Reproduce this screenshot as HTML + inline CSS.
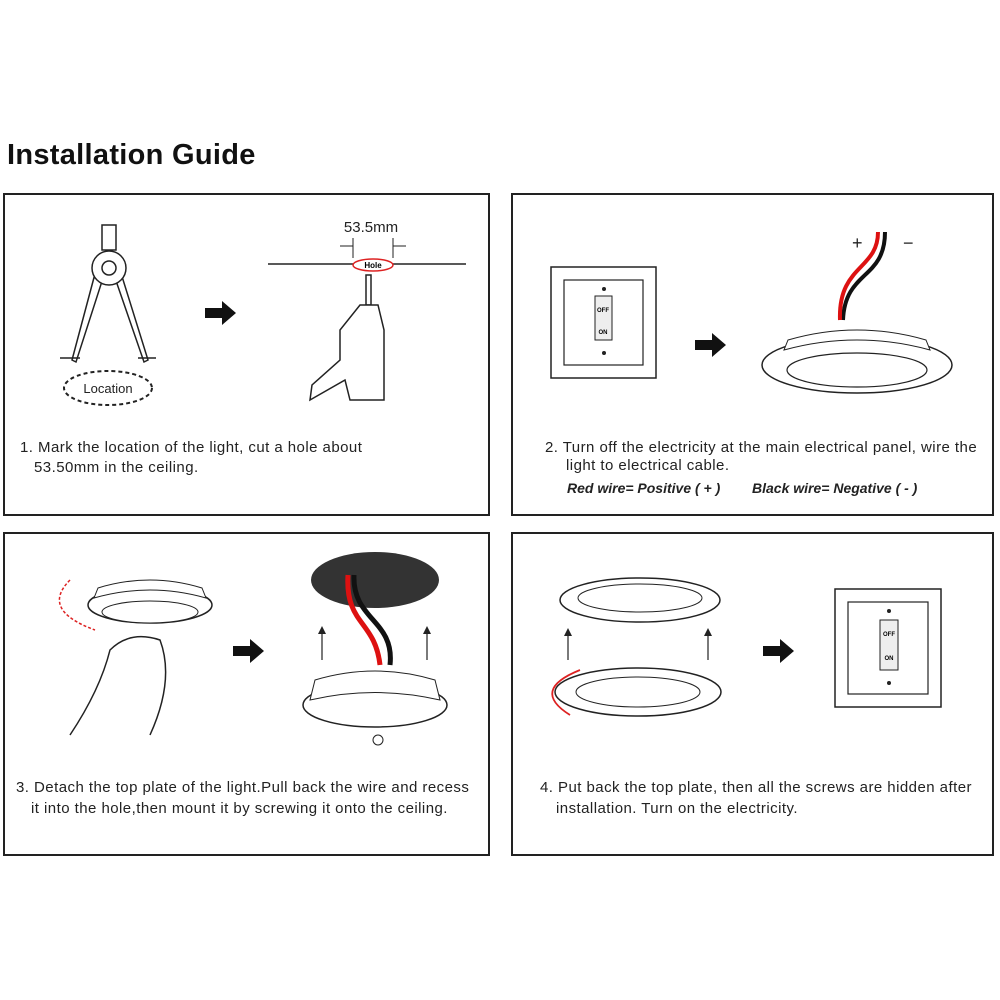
<!DOCTYPE html>
<html><head><meta charset="utf-8"><style>
body{margin:0;background:#fff;width:1000px;height:1000px;overflow:hidden}
svg{display:block}
text{font-family:"Liberation Sans",sans-serif}
.t{font-size:15px;letter-spacing:0.45px;fill:#222}
</style></head><body>
<svg width="1000" height="1000" viewBox="0 0 1000 1000">
<text x="7" y="164" font-size="29" font-weight="bold" fill="#111" letter-spacing="0.3">Installation Guide</text>
<g fill="none" stroke="#222" stroke-width="2">
<rect x="4" y="194" width="485" height="321"/>
<rect x="512" y="194" width="481" height="321"/>
<rect x="4" y="533" width="485" height="322"/>
<rect x="512" y="533" width="481" height="322"/>
</g>
<!-- Panel 1 -->
<g stroke="#222" stroke-width="1.5" fill="#fff">
<rect x="102" y="225" width="14" height="25"/>
<polygon points="96,270 72,360 76,362 104,275"/>
<polygon points="120,270 148,360 144,362 114,275"/>
<circle cx="109" cy="268" r="17"/><circle cx="109" cy="268" r="7"/>
<line x1="60" y1="358" x2="80" y2="358"/><line x1="138" y1="358" x2="156" y2="358"/>
</g>
<ellipse cx="108" cy="388" rx="44" ry="17" fill="none" stroke="#222" stroke-width="2" stroke-dasharray="4,3"/>
<text x="108" y="393" font-size="13" text-anchor="middle" fill="#222">Location</text>
<polygon points="205,308 222,308 222,301 236,313 222,325 222,318 205,318" fill="#111"/>
<line x1="268" y1="264" x2="466" y2="264" stroke="#222" stroke-width="1.5"/>
<ellipse cx="373" cy="265" rx="20" ry="6" fill="#fff" stroke="#d22" stroke-width="1.5"/>
<text x="373" y="268" font-size="8" font-weight="bold" text-anchor="middle">Hole</text>
<text x="371" y="232" font-size="15" text-anchor="middle" fill="#222">53.5mm</text>
<g stroke="#222" stroke-width="1" fill="none"><line x1="353" y1="238" x2="353" y2="258"/><line x1="393" y1="238" x2="393" y2="258"/><line x1="340" y1="246" x2="353" y2="246"/><line x1="393" y1="246" x2="406" y2="246"/></g>
<g stroke="#222" stroke-width="1.5" fill="#fff">
<rect x="366" y="275" width="5" height="30"/>
<polygon points="360,305 378,305 384,330 384,400 350,400 345,380 310,400 312,385 340,360 340,330"/>
</g>
<text x="20" y="452" class="t">1. Mark the location of the light, cut a hole about</text>
<text x="34" y="472" class="t">53.50mm in the ceiling.</text>
<!-- Panel 2 -->
<rect x="551" y="267" width="105" height="111" fill="#fff" stroke="#222" stroke-width="1.5"/>
<rect x="564" y="280" width="79" height="85" fill="#fff" stroke="#222" stroke-width="1.2"/>
<rect x="595" y="296" width="17" height="44" fill="#eee" stroke="#222"/>
<text x="603" y="312" font-size="6" text-anchor="middle" font-weight="bold">OFF</text>
<text x="603" y="334" font-size="6" text-anchor="middle" font-weight="bold">ON</text>
<circle cx="604" cy="289" r="2" fill="#222"/><circle cx="604" cy="353" r="2" fill="#222"/>
<polygon points="695,340 712,340 712,333 726,345 712,357 712,350 695,350" fill="#111"/>
<ellipse cx="857" cy="365" rx="95" ry="28" fill="#fff" stroke="#222" stroke-width="1.5"/>
<ellipse cx="857" cy="370" rx="70" ry="17" fill="#fff" stroke="#222" stroke-width="1.2"/>
<path d="M788,340 Q857,320 926,340 L930,350 Q857,330 784,350 Z" fill="#fff" stroke="#222"/>
<path d="M885,232 C885,280 845,270 843,320" stroke="#111" stroke-width="4" fill="none"/>
<path d="M878,232 C878,270 838,265 840,320" stroke="#d11" stroke-width="4" fill="none"/>
<text x="852" y="249" font-size="18" fill="#222">+</text><text x="903" y="249" font-size="18" fill="#222">−</text>
<text x="545" y="452" class="t" letter-spacing="0.7">2. Turn off the electricity at the main electrical panel, wire the</text>
<text x="566" y="470" class="t">light to electrical cable.</text>
<text x="567" y="493" font-size="14" font-weight="bold" font-style="italic" fill="#222">Red wire= Positive ( + )</text>
<text x="752" y="493" font-size="14" font-weight="bold" font-style="italic" fill="#222">Black wire= Negative ( - )</text>
<!-- Panel 3 -->
<ellipse cx="150" cy="605" rx="62" ry="18" fill="#fff" stroke="#222" stroke-width="1.5"/>
<ellipse cx="150" cy="612" rx="48" ry="11" fill="#fff" stroke="#222"/>
<path d="M98,588 Q150,572 202,588 L206,598 Q150,582 94,598Z" fill="#fff" stroke="#222"/>
<path d="M70,580 Q40,610 95,630" stroke="#d22" stroke-width="1.5" stroke-dasharray="3,2" fill="none"/>
<path d="M70,735 Q100,690 110,650 Q130,630 160,640 Q175,680 150,735" fill="none" stroke="#222" stroke-width="1.5"/>
<polygon points="233,646 250,646 250,639 264,651 250,663 250,656 233,656" fill="#111"/>
<ellipse cx="375" cy="580" rx="64" ry="28" fill="#333"/>
<path d="M354,575 C352,620 395,620 390,665" stroke="#111" stroke-width="5" fill="none"/>
<path d="M348,575 C345,625 375,620 380,665" stroke="#d11" stroke-width="5" fill="none"/>
<g stroke="#222" stroke-width="1.2"><line x1="322" y1="660" x2="322" y2="630"/><line x1="427" y1="660" x2="427" y2="630"/></g>
<polygon points="318,634 322,626 326,634" fill="#222"/><polygon points="423,634 427,626 431,634" fill="#222"/>
<ellipse cx="375" cy="705" rx="72" ry="22" fill="#fff" stroke="#222" stroke-width="1.5"/>
<path d="M315,680 Q375,662 435,680 L440,700 Q375,685 310,700Z" fill="#fff" stroke="#222"/>
<circle cx="378" cy="740" r="5" fill="#fff" stroke="#222"/>
<text x="16" y="792" class="t">3. Detach the top plate of the light.Pull back the wire and recess</text>
<text x="31" y="813" class="t">it into the hole,then mount it by screwing it onto the ceiling.</text>
<!-- Panel 4 -->
<ellipse cx="640" cy="600" rx="80" ry="22" fill="#fff" stroke="#222" stroke-width="1.5"/>
<ellipse cx="640" cy="598" rx="62" ry="14" fill="#fff" stroke="#222"/>
<g stroke="#222" stroke-width="1.2"><line x1="568" y1="660" x2="568" y2="632"/><line x1="708" y1="660" x2="708" y2="632"/></g>
<polygon points="564,636 568,628 572,636" fill="#222"/><polygon points="704,636 708,628 712,636" fill="#222"/>
<ellipse cx="638" cy="692" rx="83" ry="24" fill="#fff" stroke="#222" stroke-width="1.5"/>
<ellipse cx="638" cy="692" rx="62" ry="15" fill="#fff" stroke="#222"/>
<path d="M570,715 Q530,690 580,670" stroke="#d22" stroke-width="1.8" fill="none"/>
<polygon points="763,646 780,646 780,639 794,651 780,663 780,656 763,656" fill="#111"/>
<rect x="835" y="589" width="106" height="118" fill="#fff" stroke="#222" stroke-width="1.5"/>
<rect x="848" y="602" width="80" height="92" fill="#fff" stroke="#222" stroke-width="1.2"/>
<rect x="880" y="620" width="18" height="50" fill="#eee" stroke="#222"/>
<text x="889" y="636" font-size="6" text-anchor="middle" font-weight="bold">OFF</text>
<text x="889" y="660" font-size="6" text-anchor="middle" font-weight="bold">ON</text>
<circle cx="889" cy="611" r="2" fill="#222"/><circle cx="889" cy="683" r="2" fill="#222"/>
<text x="540" y="792" class="t">4. Put back the top plate, then all the screws are hidden after</text>
<text x="556" y="813" class="t">installation. Turn on the electricity.</text>
</svg>
</body></html>
